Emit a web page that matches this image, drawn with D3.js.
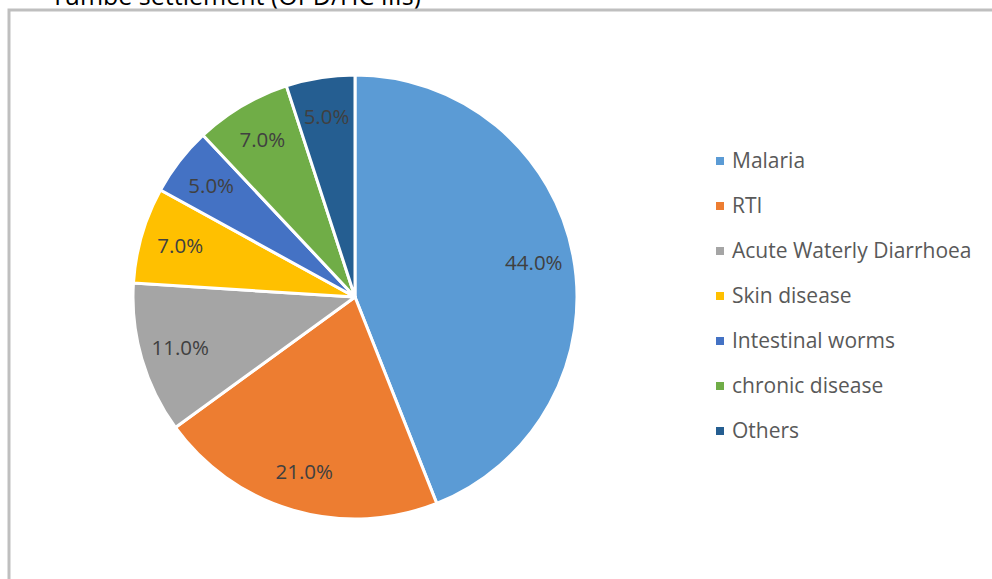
<!DOCTYPE html>
<html>
<head>
<meta charset="utf-8">
<script src="https://cdn.jsdelivr.net/npm/d3@7"></script>
<style>
  html, body { margin: 0; padding: 0; background: #fff; }
  svg { display: block; }
  text { font-family: "Open Sans", Lato, sans-serif; }
</style>
</head>
<body>
<svg id="chart" width="992" height="579"></svg>
<script>
// Morbidity breakdown by disease category
const categories = ["Malaria", "RTI", "Acute Waterly Diarrhoea", "Skin disease", "Intestinal worms", "chronic disease", "Others"];
const shares = [44.0, 21.0, 11.0, 7.0, 5.0, 7.0, 5.0];
const palette = ["#5B9BD5", "#ED7D31", "#A5A5A5", "#FFC000", "#4472C4", "#70AD47", "#255E91"];
const titleText = "Tumbe settlement (OPD/HC IIIs)";

const svg = d3.select("#chart");
const W = 992, H = 579;

// Title sits above the frame and is partly cut by the top of the page
svg.append("text")
  .attr("x", 421).attr("y", 5)
  .attr("text-anchor", "end")
  .attr("font-size", 25)
  .attr("fill", "#000")
  .text(titleText);

// Chart frame
svg.append("rect")
  .attr("x", 9).attr("y", 10)
  .attr("width", W + 20).attr("height", H + 20)
  .attr("fill", "none")
  .attr("stroke", "#BFBFBF")
  .attr("stroke-width", 3);

const cx = 355, cy = 297, R = 222;
const color = d3.scaleOrdinal().domain(categories).range(palette);

const pie = d3.pie().value(d => d.v).sort(null);
const data = pie(categories.map((c, i) => ({ c, v: shares[i] })));

const arc = d3.arc().innerRadius(0).outerRadius(R);
const labelArc = d3.arc().innerRadius(R * 0.82).outerRadius(R * 0.82);

const g = svg.append("g").attr("transform", `translate(${cx},${cy})`);

g.selectAll("path.slice")
  .data(data)
  .join("path")
  .attr("class", "slice")
  .attr("d", arc)
  .attr("fill", d => color(d.data.c))
  .attr("stroke", "#fff")
  .attr("stroke-width", 3)
  .attr("stroke-linejoin", "round");

g.selectAll("text.lbl")
  .data(data)
  .join("text")
  .attr("class", "lbl")
  .attr("transform", d => {
    const [x, y] = labelArc.centroid(d);
    return `translate(${x},${y})`;
  })
  .attr("text-anchor", "middle")
  .attr("dy", "0.35em")
  .attr("font-size", 20.5)
  .attr("fill", "#404040")
  .text(d => d3.format(".1f")(d.data.v) + "%");

// Legend
const legendY = d3.scalePoint().domain(categories).range([161, 431]);
const lg = svg.append("g");
const rows = lg.selectAll("g.row")
  .data(categories)
  .join("g")
  .attr("class", "row")
  .attr("transform", d => `translate(716,${legendY(d)})`);

rows.append("rect")
  .attr("x", 0).attr("y", -4)
  .attr("width", 8).attr("height", 8)
  .attr("fill", d => color(d));

rows.append("text")
  .attr("x", 16)
  .attr("dy", "0.35em")
  .attr("font-size", 21)
  .attr("fill", "#595959")
  .text(d => d);
</script>
</body>
</html>
